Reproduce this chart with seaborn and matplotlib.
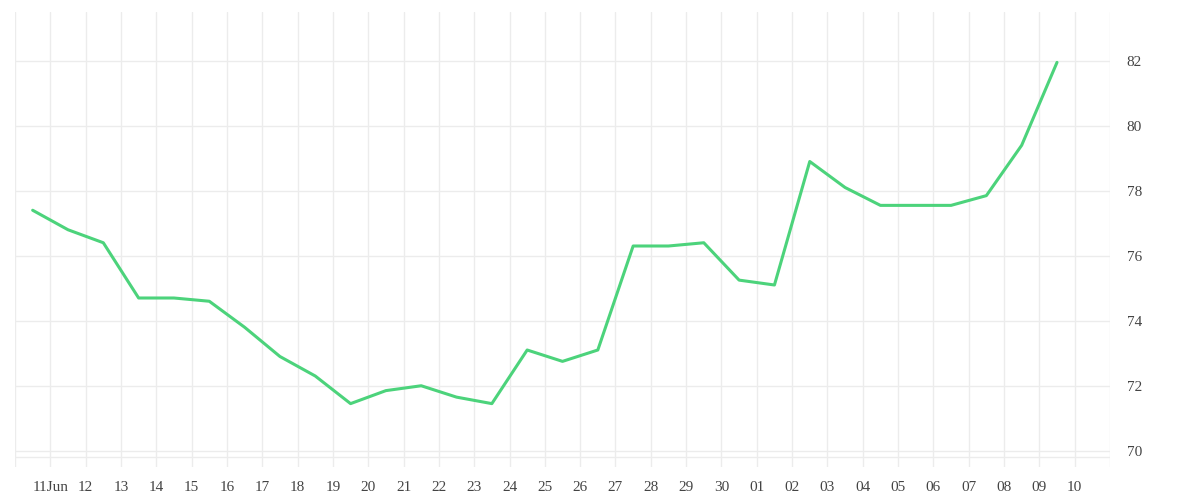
import pandas as pd
import numpy as np
import matplotlib
matplotlib.use('Agg')
import matplotlib.pyplot as plt
import matplotlib.dates as mdates
import seaborn as sns

sns.set_style('white')
plt.rcParams['font.family'] = ['Liberation Serif', 'DejaVu Serif']

# daily values, sampled at mid-day from 10 Jun to 9 Jul
start_date = '2023-06-10 12:00'
values = [77.4, 76.8, 76.4, 74.7, 74.7, 74.6, 73.8, 72.9, 72.3, 71.45,
          71.85, 72.0, 71.65, 71.45, 73.1, 72.75, 73.1, 76.3, 76.3, 76.4,
          75.25, 75.1, 78.9, 78.1, 77.55, 77.55, 77.55, 77.85, 79.4, 81.95]
y_ticks = [70, 72, 74, 76, 78, 80, 82]

dates = pd.date_range(start_date, periods=len(values), freq='D')
df = pd.DataFrame({'date': dates, 'value': values})

fig = plt.figure(figsize=(12, 5), dpi=100)
ax = fig.add_axes([15 / 1200, 33 / 500, 1095 / 1200, 455 / 500])

sns.lineplot(data=df, x='date', y='value', color='#4cd37b', linewidth=2.2, ax=ax)

tick_days = pd.date_range('2023-06-11', '2023-07-10', freq='D')
ax.set_xticks(tick_days)
labels = [d.strftime('%d') for d in tick_days]
labels[0] = '11Jun'
ax.set_xticklabels(labels)
ax.set_xlim(pd.Timestamp('2023-06-10'), pd.Timestamp('2023-07-11'))
ax.set_ylim(69.5, 83.5)
ax.set_yticks(y_ticks)
ax.yaxis.tick_right()

ax.grid(True, color='#ececec', linewidth=1)
ax.axhline(69.8, color='#ececec', linewidth=1)
for day in [pd.Timestamp('2023-06-10'), pd.Timestamp('2023-07-11')]:
    ax.axvline(day, color='#ececec', linewidth=1)
for s in ax.spines.values():
    s.set_visible(False)
ax.tick_params(axis='both', length=0, labelsize=11, labelcolor='#444444', pad=10)
ax.tick_params(axis='y', pad=12)
ax.set_xlabel('')
ax.set_ylabel('')

fig.savefig('out.png', dpi=100)
